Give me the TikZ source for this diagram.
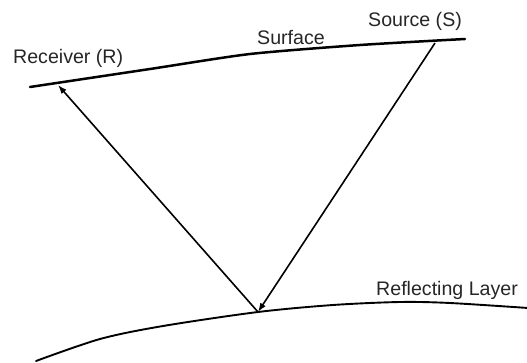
\documentclass[tikz,border=0pt]{standalone}
\usepackage{fontspec}
\setmainfont{Liberation Sans}
\usetikzlibrary{arrows.meta}
\begin{document}
\begin{tikzpicture}[x=1pt,y=-1pt,
  lbl/.style={anchor=base west,inner sep=0pt,font=\fontsize{19.6}{23}\selectfont,text=black!85},
  ground/.style={line width=2.5pt,line cap=round},
  layer/.style={line width=1.9pt,line cap=round},
  ray/.style={line width=1.6pt,-{Latex[length=9pt,width=6.5pt]}}]
\useasboundingbox (0,0) rectangle (527,363);
% surface
\draw[ground] plot[smooth,tension=0.4] coordinates {(30,87) (150,69) (250,54) (360,45) (465,39)};
% reflecting layer
\draw[layer] plot[smooth,tension=0.5] coordinates {(36,361) (100,339) (163,326) (258,312) (333,305) (400,302) (450,303) (528,308)};
\coordinate (S) at (435,43);
\coordinate (P) at (258,312);
\coordinate (R) at (58,85);
\draw[ray] (S) -- (P);
\draw[ray] (P) -- (R);
\node[lbl] (rl) at (13,64) {Receiver (R)};
\node[lbl] (sf) at (257,45) {Surface};
\node[lbl] (sl) at (368,27) {Source (S)};
\node[lbl] (ll) at (376,295) {Reflecting Layer};
\end{tikzpicture}
\end{document}
